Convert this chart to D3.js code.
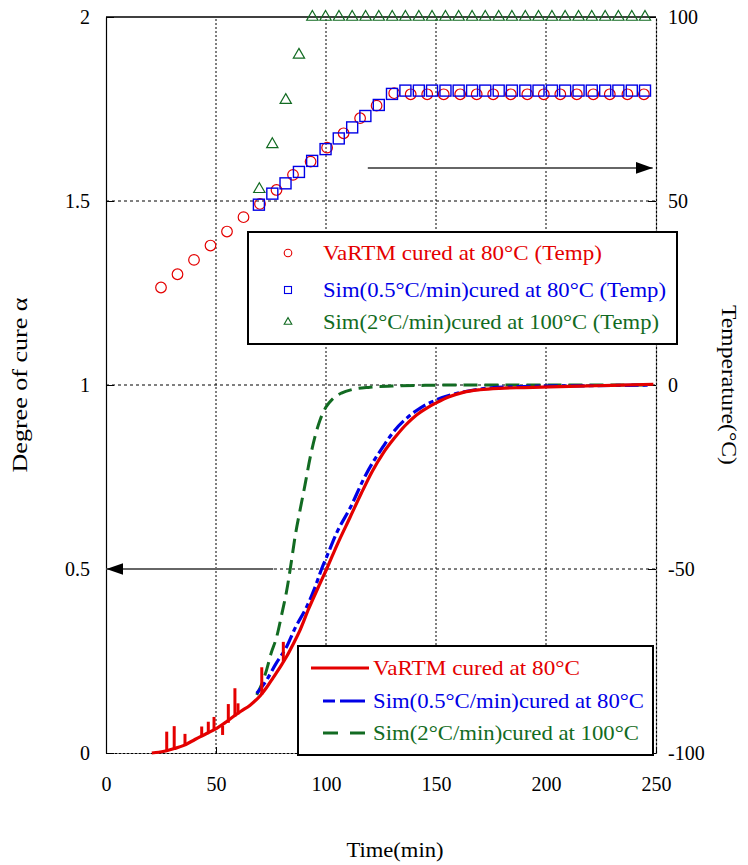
<!DOCTYPE html>
<html><head><meta charset="utf-8">
<script src="https://cdn.jsdelivr.net/npm/d3@7"></script>
<style>body{margin:0;background:#fff}svg{display:block}text{font-family:"Liberation Serif","Times New Roman",serif}</style>
</head><body><div id="chart"></div>
<script>
// ---------- DATA ----------
const xTicks = [0, 50, 100, 150, 200, 250];
const yTicks = [0, 0.5, 1, 1.5, 2];
const yTickLabels = ["0", "0.5", "1", "1.5", "2"];
const tTicks = [-100, -50, 0, 50, 100];

// VaRTM cured at 80°C — degree of cure
const redT = [20.8,24,27.6,31,35.1,39,42.7,46.5,50.3,54,57.9,61.5,65.5,70,73,76,79,82.1,85,88.2,92,97.3,100.3,105,110.9,116,121,126,131,136,141,146,150.3,156,162.4,170,179,190,201.8,215,230,248.8];
const redA = [0,0.002,0.006,0.012,0.02,0.032,0.044,0.055,0.067,0.082,0.099,0.114,0.13,0.155,0.178,0.205,0.232,0.262,0.295,0.334,0.39,0.461,0.5,0.565,0.64,0.705,0.765,0.815,0.855,0.89,0.918,0.938,0.952,0.968,0.98,0.987,0.991,0.993,0.995,0.997,0.999,1.002];
// noise spikes in the measured curve: time, low, high
const spikeT  = [27.6,31.0,35.9,43.5,46.5,49.1,53.0,55.6,58.6,60.0,70.8,80.6];
const spikeLo = [0.006,0.012,0.022,0.046,0.055,0.063,0.049,0.082,0.099,0.105,0.158,0.248];
const spikeHi = [0.058,0.073,0.052,0.072,0.085,0.098,0.075,0.133,0.176,0.135,0.233,0.302];

// Sim(0.5°C/min) cured at 80°C
const blueT = [68.5,73,77,82.1,86,91.2,95,98,100.3,105,110.9,118,126,131,136.7,143,150.3,160,171.4,185,200,220,248];
const blueA = [0.162,0.198,0.24,0.289,0.34,0.397,0.45,0.5,0.533,0.6,0.665,0.755,0.833,0.875,0.91,0.938,0.96,0.978,0.99,0.995,0.997,0.998,1.0];

// Sim(2°C/min) cured at 100°C
const greenT = [68.5,71,73,75,77.6,80,82.1,84,86,88.2,90.5,92.7,95,97.3,100,103,107,112,120,130,145,160,200,248];
const greenA = [0.158,0.19,0.226,0.27,0.316,0.38,0.44,0.51,0.59,0.66,0.73,0.8,0.86,0.905,0.94,0.962,0.978,0.988,0.994,0.997,0.999,1.0,1.0,1.0];

// Temperatures (right axis)
const circT = [25,32.5,40,47.5,55,62.5,70,77.5,85,93,100.5,108,115.5,123,131,138.5,146,153.5,161,168.5,176,184,191.5,199,206.5,214,221.5,229,237,244.5];
const circV = [26.5,30.1,34.0,37.9,41.7,45.6,49.2,53.0,57.1,60.7,64.5,68.4,72.5,75.9,79.3,79.0,79.0,79.0,79.0,79.0,79.0,79.0,79.0,79.0,79.0,79.0,79.0,79.0,79.0,79.0];
const sqT = [69.5,75.6,81.6,87.7,93.7,99.8,105.8,111.9,117.9,124,130,136.1,142.2,148.2,154.3,160.3,166.4,172.4,178.5,184.5,190.6,196.6,202.7,208.7,214.8,220.8,226.9,232.9,239,245];
const sqV = [49.0,52.0,54.8,57.9,60.9,64.1,67.0,70.0,73.1,76.1,79.1,80,80,80,80,80,80,80,80,80,80,80,80,80,80,80,80,80,80,80];
const triT = [69.7,75.6,81.7,87.7,93.8,99.8,105.9,111.9,118,124,130.1,136.1,142.2,148.2,154.3,160.3,166.4,172.4,178.5,184.5,190.6,196.6,202.7,208.7,214.8,220.8,226.9,232.9,239,245];
const triV = [53.2,65.4,77.4,89.7,100,100,100,100,100,100,100,100,100,100,100,100,100,100,100,100,100,100,100,100,100,100,100,100,100,100];

// annotation arrows: [t1, t2, value]
const arrowTemp = [119, 248.5, 59];   // points to the right axis
const arrowCure = [76, 0.2, 0.5];     // points to the left axis

const legendTempLabels = ["VaRTM cured at 80°C (Temp)", "Sim(0.5°C/min)cured at 80°C (Temp)", "Sim(2°C/min)cured at 100°C (Temp)"];
const legendCureLabels = ["VaRTM cured at 80°C", "Sim(0.5°C/min)cured at 80°C", "Sim(2°C/min)cured at 100°C"];

// ---------- DRAW ----------
const W = 748, H = 865;
const RED = "#e40000", BLUE = "#0000e6", GREEN = "#126b22";
const svg = d3.select("#chart").append("svg").attr("width", W).attr("height", H);
const x = d3.scaleLinear().domain([0, 250]).range([106, 656]);
const y = d3.scaleLinear().domain([0, 2]).range([753, 17]);
const yT = d3.scaleLinear().domain([-100, 100]).range([753, 17]);

// grid
const g = svg.append("g");
g.selectAll(".vg").data(xTicks.filter(d => d > 0 && d < 250)).join("line")
  .attr("x1", d => x(d)).attr("x2", d => x(d)).attr("y1", y(0)).attr("y2", y(2))
  .attr("stroke", "#000").attr("stroke-width", 1).attr("stroke-dasharray", "2,2");
g.selectAll(".hg").data(yTicks.filter(d => d > 0 && d < 2)).join("line")
  .attr("x1", x(0)).attr("x2", x(250)).attr("y1", d => y(d)).attr("y2", d => y(d))
  .attr("stroke", "#000").attr("stroke-width", 1).attr("stroke-dasharray", "3,3");

// axes
const axL = d3.axisLeft(y).tickValues(yTicks).tickFormat((d, i) => yTickLabels[i]).tickSizeInner(-8).tickSizeOuter(0).tickPadding(16);
const axR = d3.axisRight(yT).tickValues(tTicks).tickFormat(d => d).tickSizeInner(-8).tickSizeOuter(0).tickPadding(12);
const axB = d3.axisBottom(x).tickValues(xTicks).tickSizeInner(-6).tickSizeOuter(0).tickPadding(24);
function styleAx(sel, dash) {
  sel.select(".domain").attr("stroke", "#000").attr("stroke-width", 1.2).attr("stroke-dasharray", dash);
  sel.selectAll(".tick line").attr("stroke", "#000");
  sel.selectAll("text").attr("font-size", 20).attr("fill", "#000").style("font-family", '"Liberation Serif", serif');
}
svg.append("g").attr("transform", `translate(${x(0)},0)`).call(axL).call(s => styleAx(s, null));
svg.append("g").attr("transform", `translate(${x(250)},0)`).call(axR).call(s => styleAx(s, "3,1"));
svg.append("g").attr("transform", `translate(0,${y(0)})`).call(axB).call(s => styleAx(s, "3,1"));
svg.append("line").attr("x1", x(0)).attr("x2", x(250)).attr("y1", y(2)).attr("y2", y(2)).attr("stroke", "#000").attr("stroke-width", 1.5);

// axis titles
svg.append("text").attr("transform", `translate(27,${y(1)}) rotate(-90)`).attr("text-anchor", "middle")
  .attr("font-size", 22).attr("textLength", 175).attr("lengthAdjust", "spacingAndGlyphs").text("Degree of cure α");
svg.append("text").attr("transform", `translate(722,${y(1)}) rotate(90)`).attr("text-anchor", "middle")
  .attr("font-size", 22).attr("textLength", 160).attr("lengthAdjust", "spacingAndGlyphs").text("Temperature(°C)");
svg.append("text").attr("x", 395).attr("y", 857).attr("text-anchor", "middle")
  .attr("font-size", 21).attr("textLength", 97).attr("lengthAdjust", "spacingAndGlyphs").text("Time(min)");

// arrows
const defs = svg.append("defs");
defs.append("marker").attr("id", "ah").attr("viewBox", "0 0 17 12").attr("refX", 17).attr("refY", 6)
  .attr("markerWidth", 17).attr("markerHeight", 12).attr("markerUnits", "userSpaceOnUse").attr("orient", "auto")
  .append("path").attr("d", "M0,0L17,6L0,12Z").attr("fill", "#000");
svg.append("line").attr("x1", x(arrowTemp[0])).attr("x2", x(arrowTemp[1])).attr("y1", yT(arrowTemp[2])).attr("y2", yT(arrowTemp[2]))
  .attr("stroke", "#666").attr("stroke-width", 2).attr("marker-end", "url(#ah)");
svg.append("line").attr("x1", x(arrowCure[0])).attr("x2", x(arrowCure[1])).attr("y1", y(arrowCure[2])).attr("y2", y(arrowCure[2]))
  .attr("stroke", "#666").attr("stroke-width", 2).attr("marker-end", "url(#ah)");

// cure curves
const line = d3.line().x(d => x(d[0])).y(d => y(d[1])).curve(d3.curveMonotoneX);
const zip = (a, b) => a.map((v, i) => [v, b[i]]);
svg.append("path").datum(zip(greenT, greenA)).attr("d", line).attr("fill", "none")
  .attr("stroke", GREEN).attr("stroke-width", 3).attr("stroke-dasharray", "14,7");
svg.append("path").datum(zip(blueT, blueA)).attr("d", line).attr("fill", "none")
  .attr("stroke", BLUE).attr("stroke-width", 3.2).attr("stroke-dasharray", "14,4,5,4");
svg.append("path").datum(zip(redT, redA)).attr("d", line).attr("fill", "none")
  .attr("stroke", RED).attr("stroke-width", 3.2);
svg.selectAll(".spk").data(spikeT).join("line")
  .attr("x1", d => x(d)).attr("x2", d => x(d))
  .attr("y1", (d, i) => y(spikeLo[i])).attr("y2", (d, i) => y(spikeHi[i]))
  .attr("stroke", RED).attr("stroke-width", 3);

// temperature markers
svg.selectAll(".c").data(zip(circT, circV)).join("circle")
  .attr("cx", d => x(d[0])).attr("cy", d => yT(d[1])).attr("r", 5.3)
  .attr("fill", "none").attr("stroke", RED).attr("stroke-width", 1.2);
svg.selectAll(".s").data(zip(sqT, sqV)).join("rect")
  .attr("x", d => x(d[0]) - 5.5).attr("y", d => yT(d[1]) - 5.5).attr("width", 11).attr("height", 11)
  .attr("fill", "none").attr("stroke", BLUE).attr("stroke-width", 1.4);
const tri = d3.symbol().type(d3.symbolTriangle).size(55);
svg.selectAll(".t").data(zip(triT, triV)).join("path")
  .attr("transform", d => `translate(${x(d[0])},${yT(d[1])})`).attr("d", tri)
  .attr("fill", "none").attr("stroke", GREEN).attr("stroke-width", 1.2);

// legend 1 (temperature markers)
const L1 = svg.append("g");
L1.append("rect").attr("x", 248).attr("y", 232).attr("width", 429).attr("height", 112)
  .attr("fill", "#fff").attr("stroke", "#000").attr("stroke-width", 2);
const l1Y = [253, 290, 322], l1Col = [RED, BLUE, GREEN], l1Len = [279, 343, 336];
L1.append("circle").attr("cx", 288).attr("cy", l1Y[0]).attr("r", 3.8).attr("fill", "none").attr("stroke", RED).attr("stroke-width", 1.1);
L1.append("rect").attr("x", 284.5).attr("y", l1Y[1] - 3.5).attr("width", 7).attr("height", 7).attr("fill", "none").attr("stroke", BLUE).attr("stroke-width", 1.1);
L1.append("path").attr("transform", `translate(288,${l1Y[2]})`).attr("d", d3.symbol().type(d3.symbolTriangle).size(25)).attr("fill", "none").attr("stroke", GREEN).attr("stroke-width", 1.1);
L1.selectAll("text").data(legendTempLabels).join("text")
  .attr("x", 323).attr("y", (d, i) => l1Y[i] + 7).attr("font-size", 21).attr("fill", (d, i) => l1Col[i])
  .attr("textLength", (d, i) => l1Len[i]).attr("lengthAdjust", "spacingAndGlyphs").text(d => d);

// legend 2 (cure curves)
const L2 = svg.append("g");
L2.append("rect").attr("x", 298).attr("y", 646).attr("width", 355).attr("height", 109)
  .attr("fill", "#fff").attr("stroke", "#000").attr("stroke-width", 2);
const l2Y = [668, 701, 733], l2Len = [207, 271, 266];
const l2Dash = [null, "12,5,25,0", "15,12"];
[RED, BLUE, GREEN].forEach((c, i) => {
  L2.append("line").attr("x1", i === 0 ? 311 : 323).attr("x2", i === 0 ? 369 : 365).attr("y1", l2Y[i]).attr("y2", l2Y[i])
    .attr("stroke", c).attr("stroke-width", 3).attr("stroke-dasharray", l2Dash[i]);
});
L2.selectAll("text").data(legendCureLabels).join("text")
  .attr("x", 373).attr("y", (d, i) => l2Y[i] + 7).attr("font-size", 21).attr("fill", (d, i) => l1Col[i])
  .attr("textLength", (d, i) => l2Len[i]).attr("lengthAdjust", "spacingAndGlyphs").text(d => d);
</script></body></html>
